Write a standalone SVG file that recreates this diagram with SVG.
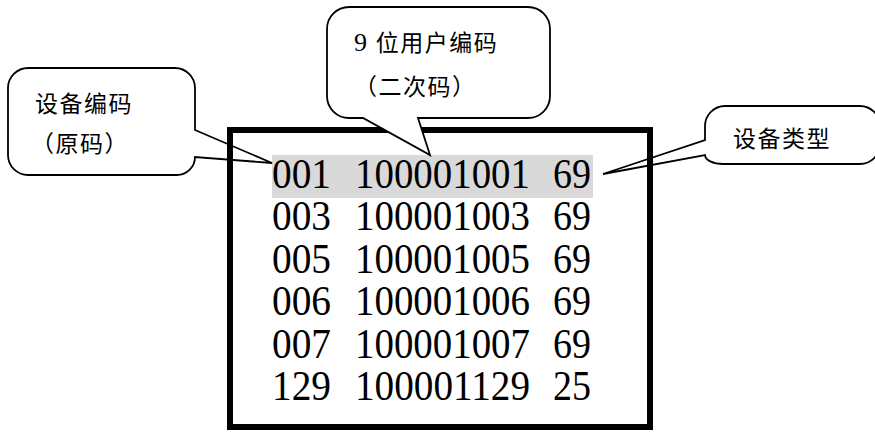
<svg xmlns="http://www.w3.org/2000/svg" width="875" height="433" viewBox="0 0 875 433">
<style>
.callout{fill:#ffffff;stroke:#000000;stroke-width:1.8;stroke-linejoin:miter}
.lbl{font-family:'Liberation Serif','Times New Roman','DejaVu Serif','Noto Sans CJK SC',serif;font-size:23px;letter-spacing:1.5px;fill:#000000}
.num text{font-family:'Liberation Serif','Times New Roman','DejaVu Serif',serif;font-size:43px;fill:#000000}
</style>
<rect width="875" height="433" fill="#ffffff"/>
<rect id="highlight" x="272" y="155" width="321" height="43" fill="#d9d9d9"/>
<g id="callout-device-code">
<path class="callout" d="M 28,68 H 175 A 20 20 0 0 1 195,88 V 130 L 272,163 L 195,157 A 18 18 0 0 1 177,175 H 28 A 20 20 0 0 1 8,155 V 88 A 20 20 0 0 1 28,68 Z"/>
<text class="lbl" x="35" y="112">设备编码</text>
<text class="lbl" x="31" y="152">（原码）</text>
</g>
<g id="callout-device-type">
<path class="callout" d="M 725,106 H 860 A 20 20 0 0 1 880,126 V 144 A 20 20 0 0 1 860,164 H 723 A 18 9 0 0 1 705,155 L 603,174 L 705,140 V 126 A 20 20 0 0 1 725,106 Z"/>
<text class="lbl" x="733" y="147">设备类型</text>
</g>
<g id="table">
<rect x="230" y="130" width="420" height="297" fill="none" stroke="#000000" stroke-width="6"/>
<g class="num">
<text x="272" y="188" textLength="59" lengthAdjust="spacingAndGlyphs">001</text>
<text x="355" y="188" textLength="175" lengthAdjust="spacingAndGlyphs">100001001</text>
<text x="553" y="188" textLength="38" lengthAdjust="spacingAndGlyphs">69</text>
<text x="272" y="230.4" textLength="59" lengthAdjust="spacingAndGlyphs">003</text>
<text x="355" y="230.4" textLength="175" lengthAdjust="spacingAndGlyphs">100001003</text>
<text x="553" y="230.4" textLength="38" lengthAdjust="spacingAndGlyphs">69</text>
<text x="272" y="272.8" textLength="59" lengthAdjust="spacingAndGlyphs">005</text>
<text x="355" y="272.8" textLength="175" lengthAdjust="spacingAndGlyphs">100001005</text>
<text x="553" y="272.8" textLength="38" lengthAdjust="spacingAndGlyphs">69</text>
<text x="272" y="315.2" textLength="59" lengthAdjust="spacingAndGlyphs">006</text>
<text x="355" y="315.2" textLength="175" lengthAdjust="spacingAndGlyphs">100001006</text>
<text x="553" y="315.2" textLength="38" lengthAdjust="spacingAndGlyphs">69</text>
<text x="272" y="357.6" textLength="59" lengthAdjust="spacingAndGlyphs">007</text>
<text x="355" y="357.6" textLength="175" lengthAdjust="spacingAndGlyphs">100001007</text>
<text x="553" y="357.6" textLength="38" lengthAdjust="spacingAndGlyphs">69</text>
<text x="272" y="400" textLength="59" lengthAdjust="spacingAndGlyphs">129</text>
<text x="355" y="400" textLength="175" lengthAdjust="spacingAndGlyphs">100001129</text>
<text x="553" y="400" textLength="38" lengthAdjust="spacingAndGlyphs">25</text>
</g>
</g>
<g id="callout-user-code">
<path class="callout" d="M 349,7 H 528 A 22 22 0 0 1 550,29 V 96 A 22 22 0 0 1 528,118 H 418 L 430,155 L 363,118 H 349 A 22 22 0 0 1 327,96 V 29 A 22 22 0 0 1 349,7 Z"/>
<text class="lbl" x="354" y="51"><tspan font-size="26">9</tspan> 位用户编码</text>
<text class="lbl" x="354" y="95">（二次码）</text>
</g>
</svg>
